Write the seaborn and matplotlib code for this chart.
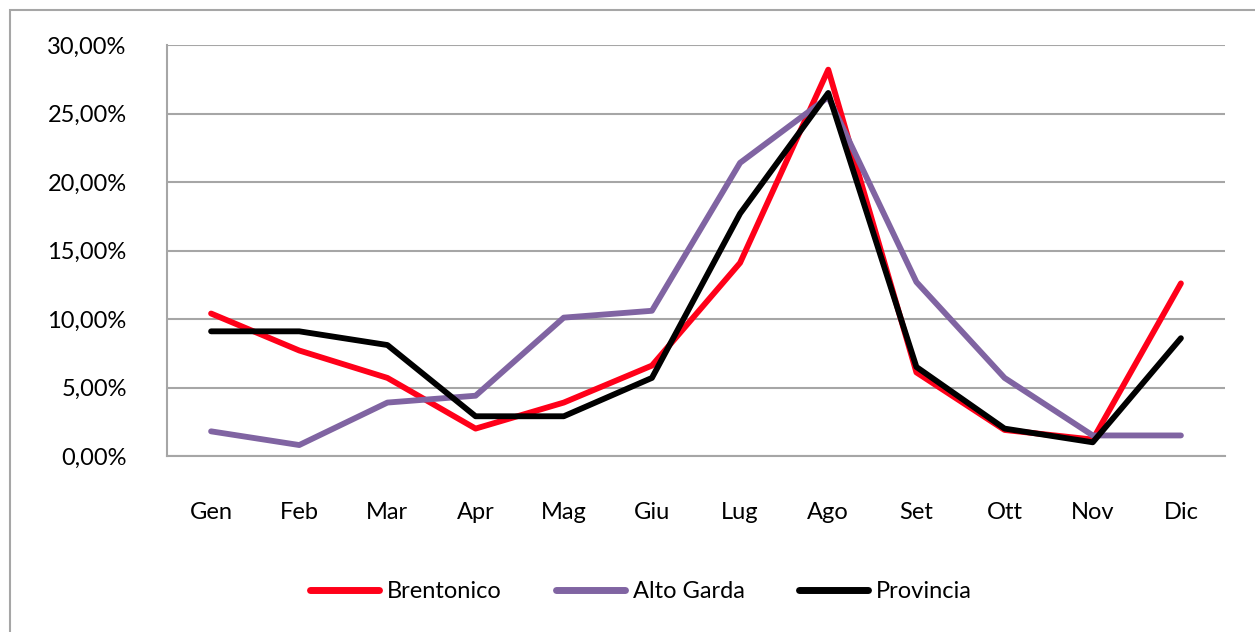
import matplotlib
matplotlib.use("Agg")
import matplotlib.pyplot as plt
import seaborn as sns
import pandas as pd
from matplotlib.patches import Rectangle
from matplotlib.ticker import FixedLocator, FuncFormatter

months = ["Gen", "Feb", "Mar", "Apr", "Mag", "Giu", "Lug", "Ago", "Set", "Ott", "Nov", "Dic"]
brentonico = [10.4, 7.7, 5.7, 2.0, 3.9, 6.6, 14.1, 28.2, 6.1, 1.9, 1.2, 12.6]
alto_garda = [1.8, 0.8, 3.9, 4.4, 10.1, 10.6, 21.4, 26.2, 12.7, 5.7, 1.5, 1.5]
provincia = [9.1, 9.1, 8.1, 2.9, 2.9, 5.7, 17.7, 26.5, 6.5, 2.0, 1.0, 8.6]

series = {"Brentonico": brentonico, "Alto Garda": alto_garda, "Provincia": provincia}
colors = {"Brentonico": "#FF0019", "Alto Garda": "#8064A2", "Provincia": "#000000"}

rows = []
for name, vals in series.items():
    for i, v in enumerate(vals):
        rows.append({"idx": i, "month": months[i], "value": v, "serie": name})
df = pd.DataFrame(rows)

sns.set_style("white")
plt.rcParams["font.family"] = ["Lato", "DejaVu Sans"]
plt.rcParams["text.color"] = "black"

fig = plt.figure(figsize=(12.55, 6.32), dpi=100)
# chart border (cut on right and bottom like the reference)
fig.patches.append(Rectangle((10 / 1255, -0.05), 1.2, 1 - 10 / 632 + 0.05,
                             transform=fig.transFigure, fill=False,
                             edgecolor="#A6A6A6", linewidth=1.5))

ax = fig.add_axes([167 / 1255, 1 - 456 / 632, (1225 - 167) / 1255, (456 - 45) / 632])
sns.lineplot(data=df, x="idx", y="value", hue="serie", palette=colors,
             linewidth=4.2, ax=ax, sort=False)

ax.set_xlim(-0.5, 11.5)
ax.set_ylim(0, 30)
ax.set_yticks(range(0, 31, 5))
ax.yaxis.set_major_formatter(FuncFormatter(lambda v, p: f"{v:.2f}%".replace(".", ",")))
ax.grid(axis="y", color="#A6A6A6", linewidth=1.5)
ax.set_axisbelow(True)

ax.xaxis.set_major_locator(FixedLocator([i - 0.5 for i in range(13)]))
ax.xaxis.set_major_formatter(FuncFormatter(lambda v, p: ""))
ax.xaxis.set_minor_locator(FixedLocator(list(range(12))))
ax.set_xticklabels(months, minor=True)
ax.tick_params(axis="x", which="major", length=9, width=1.5, color="#A6A6A6", direction="out")
ax.tick_params(axis="x", which="minor", length=0, pad=33, labelsize=17, labelcolor="black")
ax.tick_params(axis="y", length=9, width=1.5, color="#A6A6A6", direction="out", pad=20,
               labelsize=17, labelcolor="black")
ax.set_xlabel("")
ax.set_ylabel("")

for s in ["top", "right"]:
    ax.spines[s].set_visible(False)
for s in ["left", "bottom"]:
    ax.spines[s].set_color("#A6A6A6")
    ax.spines[s].set_linewidth(1.5)

leg = ax.legend(loc="center", bbox_to_anchor=(641 / 1255, 1 - 592 / 632),
                bbox_transform=fig.transFigure, ncol=3, frameon=False,
                fontsize=17, handlelength=2.9, handletextpad=0.35, columnspacing=2.3)
for line in leg.get_lines():
    line.set_linewidth(5)

fig.savefig("out.png", dpi=100)
